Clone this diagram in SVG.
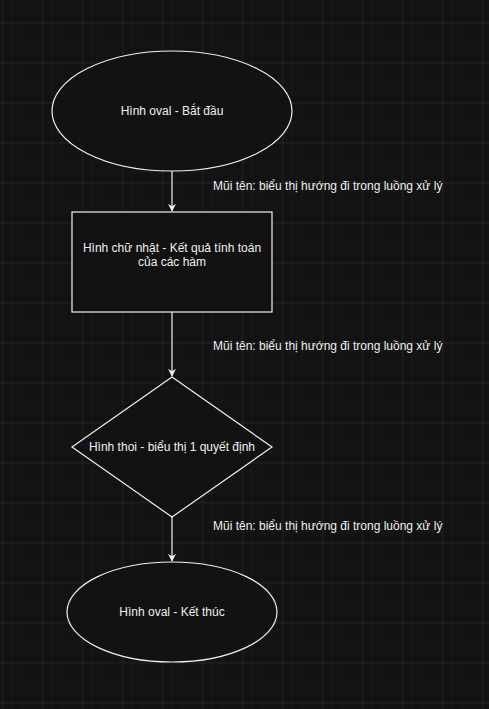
<svg xmlns="http://www.w3.org/2000/svg" width="489" height="709" viewBox="0 0 489 709">
<style>
.shape{fill:#121212;stroke:#f0f0f0;stroke-width:1.2}
.edge{fill:none;stroke:#f0f0f0;stroke-width:1.2}
text{font-family:"Liberation Sans",Arial,sans-serif;font-size:12px;fill:#f0f0f0}
.c{text-anchor:middle}
</style>
<defs>
<pattern id="minor" width="10" height="10" patternUnits="userSpaceOnUse" x="2.5" y="2.5">
<path d="M10 0V10M0 10H10" fill="none" stroke="#1d1d1d" stroke-width="1"/>
</pattern>
<pattern id="major" width="40" height="40" patternUnits="userSpaceOnUse" x="2.5" y="22.5">
<path d="M0 0V40M0 0H40" fill="none" stroke="#2e2e2e" stroke-width="1"/>
</pattern>
<marker id="arr" viewBox="0 0 10 10" refX="9" refY="5" markerWidth="8" markerHeight="8" markerUnits="userSpaceOnUse" orient="auto">
<path d="M0 0L10 5L0 10L3 5Z" fill="#f0f0f0"/>
</marker>
</defs>
<rect width="489" height="709" fill="#121212"/>
<rect width="489" height="709" fill="url(#minor)"/>
<rect width="489" height="709" fill="url(#major)"/>
<g id="connectors">
<path class="edge" d="M172 171V211" marker-end="url(#arr)"/>
<path class="edge" d="M172 312V376" marker-end="url(#arr)"/>
<path class="edge" d="M172 517V561" marker-end="url(#arr)"/>
<text x="213" y="190">Mũi tên: biểu thị hướng đi trong luồng xử lý</text>
<text x="213" y="350">Mũi tên: biểu thị hướng đi trong luồng xử lý</text>
<text x="213" y="530">Mũi tên: biểu thị hướng đi trong luồng xử lý</text>
</g>
<g id="start">
<ellipse class="shape" cx="172" cy="111" rx="120" ry="60"/>
<text class="c" x="172" y="115">Hình oval - Bắt đầu</text>
</g>
<g id="process">
<rect class="shape" x="72" y="212" width="200" height="100"/>
<text class="c" x="172" y="252">Hình chữ nhật - Kết quả tính toán</text>
<text class="c" x="172" y="266">của các hàm</text>
</g>
<g id="decision">
<path class="shape" d="M172 377L272 447L172 517L72 447Z"/>
<text class="c" x="172" y="451">Hình thoi - biểu thị 1 quyết định</text>
</g>
<g id="end">
<ellipse class="shape" cx="172" cy="612" rx="105" ry="50"/>
<text class="c" x="172" y="616">Hình oval - Kết thúc</text>
</g>
</svg>
